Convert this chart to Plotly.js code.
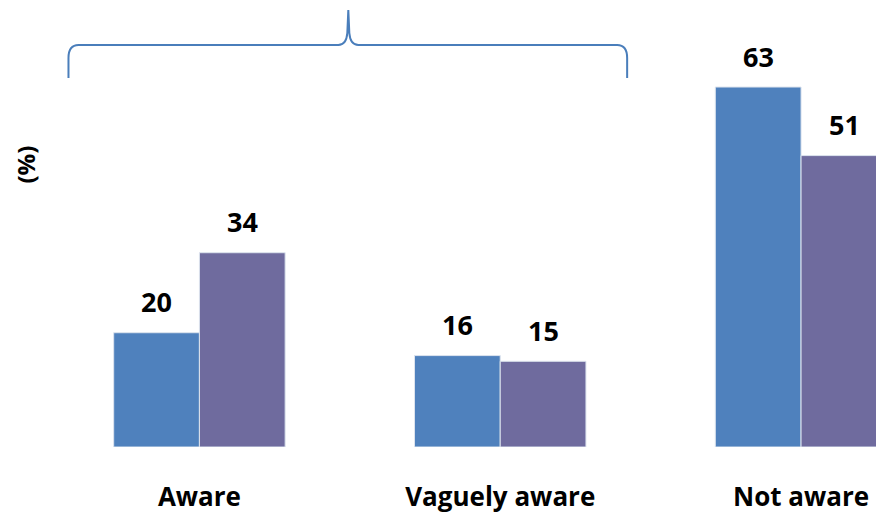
<!DOCTYPE html>
<html>
<head>
<meta charset="utf-8">
<script src="https://cdn.plot.ly/plotly-3.0.1.min.js"></script>
<style>html,body{margin:0;padding:0;background:#fff;}#chart{width:876px;height:514px;}</style>
</head>
<body>
<div id="chart"></div>
<script>
const categories = ["Aware", "Vaguely aware", "Not aware"];
const seriesA = [20, 16, 63];
const seriesB = [34, 15, 51];
const seriesNames = ["Series A", "Series B"];
const yLabel = "(%)";

const W = 876, H = 514;
const L = 48.5, B = 447; // plot left edge, baseline (px)
const plotW = W - L, plotH = B;
const px = x => (x - L) / plotW;
const py = y => (B - y) / plotH;

const FONT = "Open Sans, Liberation Sans, sans-serif";
const blue = "#4F81BD", purple = "#6F6B9E";

const traces = [
  {type: "bar", x: categories, y: seriesA, name: seriesNames[0],
   marker: {color: blue, line: {color: "#dde4ee", width: 1}}, hoverinfo: "skip"},
  {type: "bar", x: categories, y: seriesB, name: seriesNames[1],
   marker: {color: purple, line: {color: "#dde4ee", width: 1}}, hoverinfo: "skip"}
];

const annotations = [];
[seriesA, seriesB].forEach((s, k) => {
  s.forEach((v, i) => {
    annotations.push({x: categories[i], y: v, xref: "x", yref: "y", text: String(v),
      showarrow: false, xshift: k === 0 ? -43 : 43, yshift: 31, xanchor: "center", yanchor: "middle",
      font: {family: FONT, size: 27, color: "#000", weight: "bold"}});
  });
});
annotations.push({xref: "paper", yref: "paper", x: px(24), y: py(165), text: yLabel,
  xanchor: "center", yanchor: "middle",
  textangle: -90, showarrow: false, font: {family: FONT, size: 24, color: "#000", weight: "bold"}});

const P = (x, y) => px(x).toFixed(5) + "," + py(y).toFixed(5);
const bracePath = "M" + P(68,78) + " L" + P(68,58) + " Q" + P(68,45) + " " + P(78,45) +
  " L" + P(338,45) + " Q" + P(346,45) + " " + P(347,33) + " L" + P(348,10) +
  " L" + P(349,33) + " Q" + P(350,45) + " " + P(358,45) + " L" + P(617,45) +
  " Q" + P(627,45) + " " + P(627,58) + " L" + P(627,78);

const layout = {
  width: W, height: H,
  margin: {l: L, r: 0, t: 0, b: H - B, pad: 0},
  paper_bgcolor: "#fff", plot_bgcolor: "#fff",
  showlegend: false,
  barmode: "group", bargap: 0.43, bargroupgap: 0,
  xaxis: {type: "category", range: [-0.5, -0.5 + plotW / 301], showgrid: false, zeroline: false,
    showline: false, ticks: "", ticklabelstandoff: 32,
    tickfont: {family: FONT, size: 26, color: "#000", weight: "bold"}},
  yaxis: {range: [0, B / 5.714], showgrid: false, zeroline: false, showline: false,
    showticklabels: false, ticks: ""},
  annotations: annotations,
  shapes: [{type: "path", xref: "paper", yref: "paper", path: bracePath,
    line: {color: "#4A7EBB", width: 2}}]
};

Plotly.newPlot("chart", traces, layout, {staticPlot: true, displayModeBar: false});
</script>
</body>
</html>
